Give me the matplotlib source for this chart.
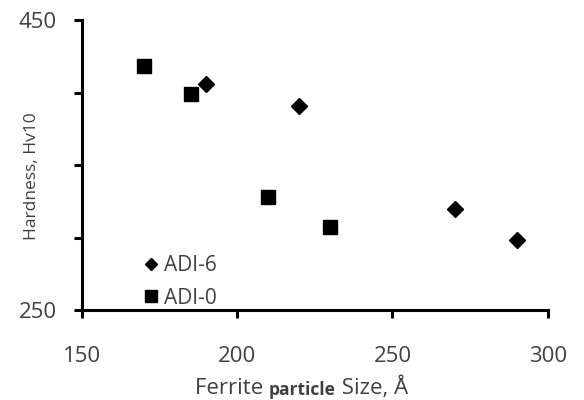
import numpy as np
import matplotlib.pyplot as plt
from matplotlib.lines import Line2D

# data
adi6_size = [190, 220, 270, 290]
adi6_hv = [406, 391, 320, 298]
adi0_size = [170, 185, 210, 230]
adi0_hv = [418, 399, 328, 307]

text_grey = "#404040"
plt.rcParams["font.family"] = ["Open Sans", "DejaVu Sans"]

fig = plt.figure(figsize=(5.84, 4), dpi=100)
ax = fig.add_axes([0.140, 0.225, 0.798, 0.725])

ax.plot(adi6_size, adi6_hv, ls="none", marker="D", markersize=8.5, color="black")
ax.plot(adi0_size, adi0_hv, ls="none", marker="s", markersize=10.5, color="black")

ax.set_xlim(150, 300)
ax.set_ylim(250, 450)
ax.set_xticks([150, 200, 250, 300])
ax.set_yticks([250, 300, 350, 400, 450])
ax.set_yticklabels(["250", "", "", "", "450"])

for side in ["top", "right"]:
    ax.spines[side].set_visible(False)
for side in ["left", "bottom"]:
    ax.spines[side].set_linewidth(2.2)
ax.tick_params(direction="out", length=6, width=2.2, labelsize=16, labelcolor=text_grey)
ax.tick_params(axis="y", pad=12)
ax.tick_params(axis="x", pad=20)

ax.set_ylabel("Hardness, Hv10", fontsize=12.5, color=text_grey)
ax.yaxis.set_label_coords(-0.09, 0.46)

# x label with a bold, smaller middle word
t1 = fig.text(0.334, 0.015, "Ferrite ", fontsize=16, color=text_grey, va="baseline", ha="left")
t2 = ax.annotate("particle", xy=(1, 0), xycoords=t1, fontsize=12.5, fontweight="bold",
                 color=text_grey, va="bottom", ha="left", annotation_clip=False)
t3 = ax.annotate(" Size, Å", xy=(1, 0), xycoords=t2, fontsize=16, color=text_grey,
                 va="bottom", ha="left", annotation_clip=False)

handles = [Line2D([], [], ls="none", marker="D", markersize=6, color="black"),
           Line2D([], [], ls="none", marker="s", markersize=8.5, color="black")]
ax.legend(handles, ["ADI-6", "ADI-0"], loc="lower left", bbox_to_anchor=(0.095, -0.06),
          frameon=False, fontsize=15, labelcolor=text_grey, handlelength=0.6,
          handletextpad=0.3, labelspacing=0.55)

fig.savefig("out.png", dpi=100)
